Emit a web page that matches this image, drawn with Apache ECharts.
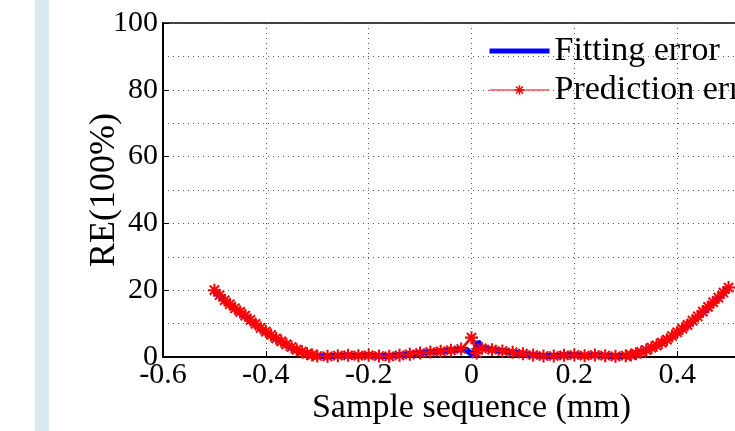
<!DOCTYPE html>
<html>
<head>
<meta charset="utf-8">
<script src="https://cdn.jsdelivr.net/npm/echarts@6/dist/echarts.min.js"></script>
<style>
  html, body { margin: 0; padding: 0; background: #fff; }
  #main { width: 735px; height: 431px; }
</style>
</head>
<body>
<div id="main"></div>
<script>
// 数据: 拟合误差 / 预测误差
var fitX = [-0.5, -0.48, -0.46, -0.44, -0.42, -0.4, -0.38, -0.36, -0.34, -0.32, -0.3, -0.28, -0.26, -0.24, -0.22, -0.2, -0.18, -0.16, -0.14, -0.12, -0.1, -0.08, -0.06, -0.04, -0.02, -0.01, 0.005, 0.012, 0.02, 0.04, 0.06, 0.08, 0.1, 0.12, 0.14, 0.16, 0.18, 0.2, 0.22, 0.24, 0.26, 0.28, 0.3, 0.32, 0.34, 0.36, 0.38, 0.4, 0.42, 0.44, 0.46, 0.48, 0.5];
var fitY = [19.8, 16.9, 14.4, 12.1, 9.7, 7.4, 5.4, 3.6, 2.0, 0.9, 0.2, 0.2, 0.4, 0.5, 0.4, 0.5, 0.3, 0.3, 0.6, 0.9, 1.2, 1.5, 1.7, 2.0, 2.3, 2.2, 0.2, 4.6, 2.8, 2.2, 1.8, 1.4, 1.0, 0.6, 0.3, 0.3, 0.5, 0.6, 0.4, 0.6, 0.4, 0.2, 0.4, 1.0, 2.0, 3.4, 5.1, 7.2, 9.4, 12.0, 14.8, 17.6, 20.6];
var predX = [-0.5, -0.49, -0.48, -0.47, -0.46, -0.45, -0.44, -0.43, -0.42, -0.41, -0.4, -0.39, -0.38, -0.37, -0.36, -0.35, -0.34, -0.33, -0.32, -0.31, -0.3, -0.28, -0.26, -0.24, -0.22, -0.2, -0.18, -0.16, -0.14, -0.12, -0.1, -0.08, -0.06, -0.04, -0.02, 0, 0.01, 0.02, 0.04, 0.06, 0.08, 0.1, 0.12, 0.14, 0.16, 0.18, 0.2, 0.22, 0.24, 0.26, 0.28, 0.3, 0.31, 0.32, 0.33, 0.34, 0.35, 0.36, 0.37, 0.38, 0.39, 0.4, 0.41, 0.42, 0.43, 0.44, 0.45, 0.46, 0.47, 0.48, 0.49, 0.5];
var predY = [20.0, 18.5, 17.0, 15.8, 14.6, 13.5, 12.4, 11.1, 9.9, 8.7, 7.6, 6.6, 5.6, 4.7, 3.8, 3.0, 2.2, 1.6, 1.0, 0.6, 0.3, 0.2, 0.4, 0.5, 0.4, 0.5, 0.3, 0.2, 0.5, 0.8, 1.2, 1.5, 1.7, 2.0, 2.4, 5.8, 1.2, 2.6, 2.2, 1.8, 1.4, 1.0, 0.6, 0.3, 0.3, 0.5, 0.6, 0.4, 0.6, 0.4, 0.2, 0.4, 0.6, 1.0, 1.5, 2.1, 2.8, 3.5, 4.3, 5.2, 6.3, 7.4, 8.5, 9.6, 10.9, 12.2, 13.6, 15.0, 16.4, 17.8, 19.3, 20.8];
var seriesNames = ['Fitting error', 'Prediction error'];

function pairs(xs, ys) {
  return xs.map(function (x, i) { return [x, ys[i]]; });
}

// 星号标记
var starPath = 'path://M-0.8,-5 L0.8,-5 L0.8,5 L-0.8,5 Z M-5,-0.8 L5,-0.8 L5,0.8 L-5,0.8 Z M-4.1,-3 L-3,-4.1 L4.1,3 L3,4.1 Z M3,-4.1 L4.1,-3 L-3,4.1 L-4.1,3 Z';
var font = 'Liberation Serif';
var gridDots = { color: '#555', type: [1, 4], width: 1 };

var myChart = echarts.init(document.getElementById('main'));
myChart.setOption({
  animation: false,
  backgroundColor: '#fff',
  graphic: [{
    type: 'rect',
    shape: { x: 35, y: 0, width: 14, height: 431 },
    style: { fill: '#d8ebee' },
    z: -10
  }],
  grid: {
    left: 163, top: 23, bottom: 74, right: -45,
    outerBoundsMode: 'none',
    show: true, borderColor: '#000', borderWidth: 1.5
  },
  legend: {
    orient: 'vertical',
    left: 487, top: 34, padding: 0,
    itemWidth: 60, itemHeight: 12, itemGap: 5,
    textStyle: { fontFamily: font, fontSize: 34, color: '#000' },
    data: [
      { name: seriesNames[0], itemStyle: { opacity: 0 }, lineStyle: { width: 5 } },
      { name: seriesNames[1], lineStyle: { width: 1.5, color: '#ff5050' } }
    ]
  },
  xAxis: {
    type: 'value',
    min: -0.6, max: 0.6, interval: 0.2,
    name: 'Sample sequence (mm)',
    nameLocation: 'middle', nameGap: 34, nameMoveOverlap: false,
    nameTextStyle: { fontFamily: font, fontSize: 34, color: '#000' },
    axisLine: { onZero: false, lineStyle: { color: '#000', width: 2 } },
    axisTick: { inside: true, length: 6, lineStyle: { color: '#000' } },
    axisLabel: {
      fontFamily: font, fontSize: 30, color: '#000', margin: 3,
      formatter: function (v) { return Math.abs(v) < 1e-9 ? '0' : String(+v.toFixed(1)); }
    },
    splitLine: { show: true, lineStyle: gridDots }
  },
  yAxis: {
    type: 'value',
    min: 0, max: 100, interval: 20,
    name: 'RE(100%)',
    nameLocation: 'middle', nameGap: 40, nameMoveOverlap: false,
    nameTextStyle: { fontFamily: font, fontSize: 36, color: '#000' },
    axisLine: { show: true, onZero: false, lineStyle: { color: '#000', width: 2 } },
    axisTick: { show: true, inside: true, length: 6, lineStyle: { color: '#000' } },
    axisLabel: { fontFamily: font, fontSize: 30, color: '#000', margin: 5 },
    splitLine: { show: true, lineStyle: gridDots },
    minorTick: { show: false, splitNumber: 2 },
    minorSplitLine: { show: true, lineStyle: gridDots }
  },
  series: [{
    name: seriesNames[0],
    type: 'line',
    data: pairs(fitX, fitY),
    symbol: 'none',
    lineStyle: { color: '#0000ff', width: 6 },
    itemStyle: { color: '#0000ff' },
    z: 2
  }, {
    name: seriesNames[1],
    type: 'line',
    data: pairs(predX, predY),
    symbol: starPath,
    symbolSize: 13,
    showAllSymbol: true,
    lineStyle: { color: '#ff0000', width: 2.5 },
    itemStyle: { color: '#ff0000' },
    z: 3
  }]
});
</script>
</body>
</html>
